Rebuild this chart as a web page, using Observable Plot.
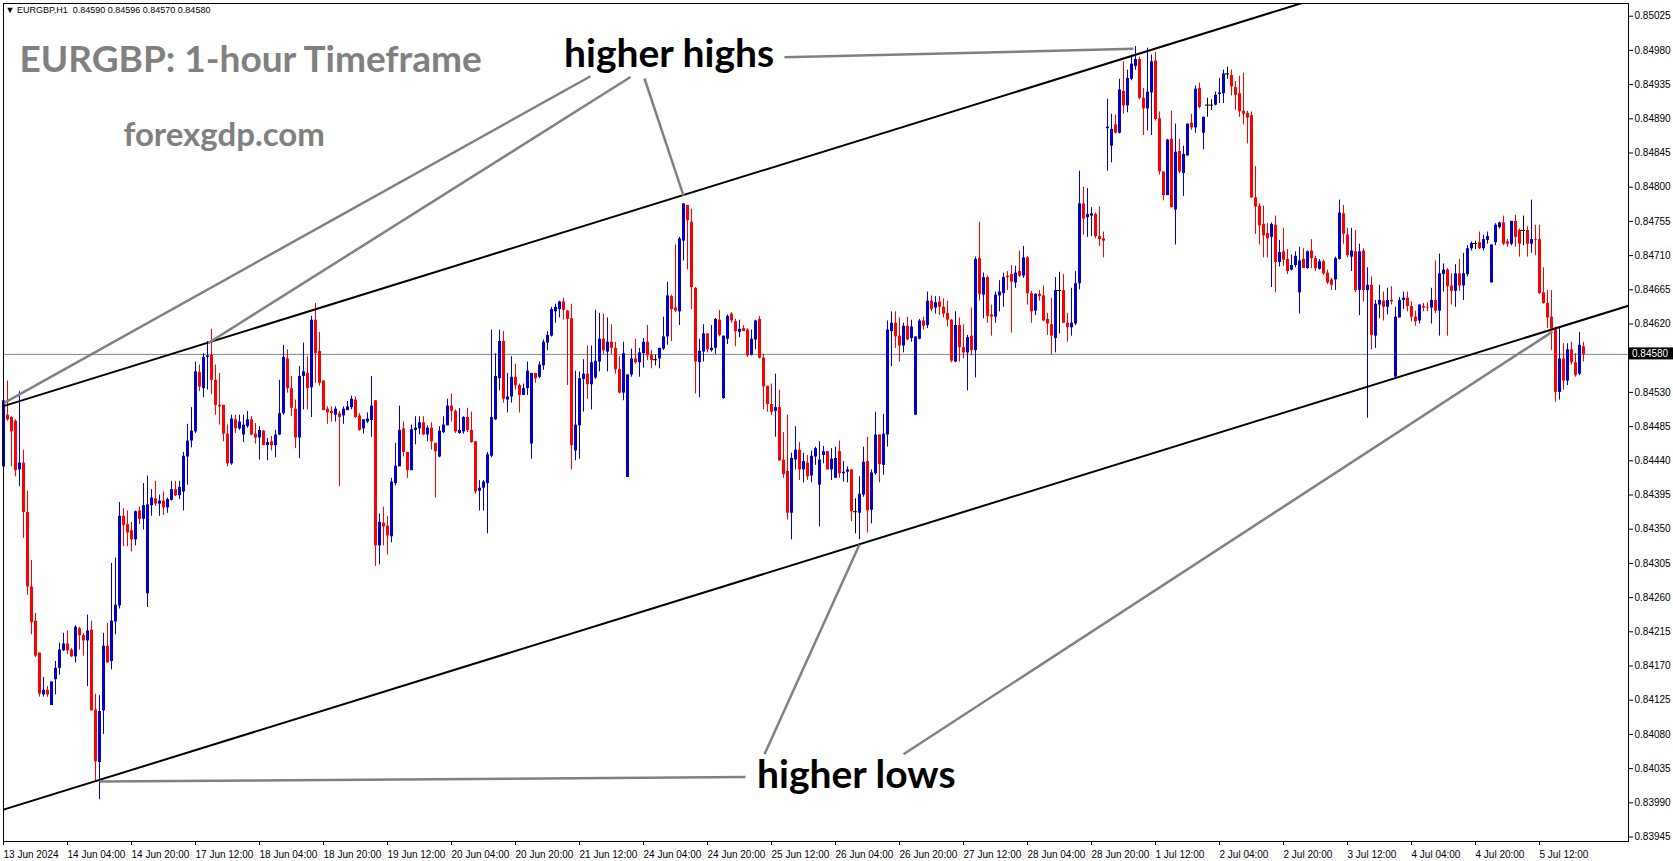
<!DOCTYPE html>
<html><head><meta charset="utf-8">
<script src="https://cdn.jsdelivr.net/npm/d3@7"></script>
<script src="https://cdn.jsdelivr.net/npm/@observablehq/plot@0.6"></script>
<style>
html,body{margin:0;padding:0;background:#fff;}
#chart{width:1673px;height:861px;overflow:hidden;}
</style></head><body><div id="chart"></div>
<script>
// Hourly EURGBP candles, prices in points (1e-5), bar 0 = 13 Jun 2024 12:00
const opens = [84432,84500,84497,84492,84428,84437,84372,84274,84229,84187,
84132,84138,84118,84152,84167,84190,84199,84191,84182,84219,
84210,84203,84217,84112,84043,84111,84196,84176,84228,84249,
84367,84356,84348,84336,84374,84363,84265,84381,84390,84383,
84387,84378,84388,84402,84394,84399,84445,84466,84478,84556,
84535,84576,84579,84546,84513,84513,84475,84436,84494,84482,
84474,84485,84494,84475,84470,84479,84460,84465,84460,84474,
84502,84574,84535,84508,84470,84551,84555,84536,84625,84584,
84545,84508,84505,84500,84502,84499,84506,84510,84520,84499,
84482,84491,84493,84519,84328,84358,84354,84340,84410,84432,
84482,84451,84427,84480,84482,84490,84474,84483,84463,84445,
84477,84486,84512,84505,84476,84478,84497,84480,84465,84400,
84404,84410,84446,84494,84548,84597,84520,84524,84550,84539,
84526,84535,84462,84555,84550,84565,84595,84604,84636,84639,
84649,84637,84627,84453,84486,84547,84554,84540,84549,84570,
84600,84583,84596,84588,84560,84529,84418,84553,84574,84569,
84581,84596,84579,84573,84574,84587,84603,84656,84641,84636,
84729,84776,84754,84667,84569,84583,84607,84585,84588,84625,
84522,84600,84633,84623,84609,84614,84612,84579,84599,84626,
84575,84538,84514,84505,84510,84441,84426,84371,84441,84454,
84428,84437,84420,84445,84408,84447,84452,84428,84417,84452,
84423,84425,84428,84373,84371,84395,84439,84375,84423,84474,
84434,84474,84610,84621,84604,84591,84617,84601,84500,84600,
84624,84618,84650,84641,84649,84642,84634,84625,84570,84618,
84589,84582,84604,84585,84706,84658,84681,84632,84629,84657,
84660,84683,84685,84674,84689,84683,84707,84660,84637,84659,
84657,84626,84619,84601,84664,84664,84621,84615,84620,84673,
84778,84760,84762,84764,84735,84732,84877,84854,84882,84871,
84926,84907,84942,84959,84968,84917,84903,84924,84966,84890,
84820,84789,84863,84770,84847,84818,84841,84884,84878,84930,
84871,84908,84908,84908,84922,84923,84949,84947,84931,84923,
84900,84897,84894,84786,84775,84751,84739,84734,84750,84701,
84715,84705,84691,84697,84661,84705,84693,84716,84706,84692,
84702,84687,84678,84678,84705,84765,84737,84708,84715,84664,
84716,84664,84671,84604,84645,84650,84642,84651,84550,84628,
84651,84654,84643,84629,84624,84643,84642,84641,84651,84637,
84685,84691,84670,84663,84686,84670,84685,84719,84726,84727,
84719,84730,84674,84727,84747,84753,84728,84725,84755,84743,
84743,84743,84725,84731,84731,84661,84647,84629,84613,84530,
84574,84545,84586,84569,84554,84590];
const highs = [84520,84545,84498,84494,84531,84454,84400,84309,84239,84187,
84155,84143,84149,84176,84200,84213,84216,84193,84223,84221,
84213,84237,84229,84133,84131,84213,84226,84305,84312,84385,
84377,84374,84359,84374,84379,84410,84420,84402,84413,84395,
84399,84391,84413,84413,84413,84451,84488,84510,84570,84566,
84581,84597,84613,84566,84555,84513,84487,84500,84500,84500,
84500,84505,84498,84489,84485,84480,84469,84472,84480,84546,
84592,84586,84551,84520,84564,84595,84577,84630,84647,84609,
84545,84511,84511,84511,84505,84511,84518,84525,84524,84502,
84494,84503,84551,84519,84370,84379,84367,84417,84463,84512,
84491,84451,84487,84498,84498,84498,84486,84490,84463,84485,
84498,84521,84528,84507,84509,84498,84509,84504,84465,84414,
84414,84451,84612,84581,84612,84610,84555,84577,84567,84541,
84541,84570,84555,84555,84570,84599,84610,84642,84646,84650,
84654,84638,84646,84558,84557,84573,84591,84591,84638,84634,
84633,84628,84619,84596,84577,84596,84553,84587,84600,84588,
84601,84618,84585,84579,84588,84629,84675,84658,84724,84734,
84778,84776,84771,84668,84600,84619,84607,84618,84627,84638,
84604,84632,84635,84626,84625,84618,84614,84612,84625,84630,
84580,84538,84541,84554,84533,84477,84500,84450,84485,84464,
84450,84447,84453,84458,84465,84459,84452,84456,84458,84466,
84439,84432,84428,84390,84419,84458,84471,84428,84504,84474,
84501,84624,84636,84636,84628,84621,84629,84625,84603,84626,
84629,84662,84657,84656,84656,84653,84650,84626,84636,84628,
84619,84605,84641,84708,84754,84687,84683,84645,84662,84677,
84687,84689,84697,84696,84716,84722,84709,84663,84660,84664,
84670,84634,84654,84681,84688,84685,84634,84667,84689,84821,
84800,84798,84773,84766,84774,84741,84916,84896,84895,84942,
84965,84954,84974,84985,84971,84930,84983,84974,84977,84899,
84820,84863,84900,84883,84863,84854,84883,84896,84933,84937,
84892,84917,84915,84925,84943,84954,84958,84954,84939,84946,
84950,84900,84899,84827,84778,84775,84752,84753,84762,84730,
84746,84718,84711,84715,84721,84719,84716,84731,84709,84705,
84704,84691,84680,84708,84783,84776,84746,84746,84743,84725,
84719,84694,84682,84651,84671,84662,84667,84669,84642,84655,
84662,84662,84649,84637,84645,84647,84648,84667,84703,84712,
84699,84693,84686,84698,84705,84713,84723,84728,84729,84741,
84737,84741,84724,84752,84754,84762,84731,84755,84763,84745,
84762,84748,84783,84750,84750,84694,84664,84664,84616,84614,
84594,84594,84596,84581,84609,84596];
const lows = [84419,84492,84432,84419,84406,84338,84263,84211,84181,84129,
84129,84129,84118,84132,84158,84189,84185,84181,84174,84191,
84183,84143,84111,84019,83994,84080,84174,84165,84211,84245,
84327,84327,84320,84328,84356,84349,84247,84367,84380,84367,
84368,84371,84387,84393,84389,84374,84408,84457,84476,84531,
84523,84533,84527,84500,84487,84465,84432,84434,84476,84480,
84464,84483,84473,84462,84441,84460,84440,84453,84444,84473,
84500,84529,84498,84456,84443,84507,84507,84497,84542,84538,
84506,84488,84491,84491,84406,84488,84506,84507,84496,84479,
84475,84489,84471,84301,84303,84328,84316,84332,84407,84432,
84445,84417,84427,84461,84474,84473,84465,84454,84391,84444,
84476,84486,84491,84476,84475,84475,84477,84463,84396,84374,
84374,84344,84444,84493,84532,84516,84503,84516,84533,84503,
84526,84526,84442,84542,84548,84559,84585,84603,84621,84628,
84625,84539,84428,84440,84442,84504,84521,84507,84547,84557,
84580,84557,84580,84554,84528,84519,84418,84550,84567,84550,
84562,84572,84561,84565,84561,84585,84592,84597,84635,84618,
84703,84691,84639,84528,84523,84570,84582,84583,84580,84603,
84521,84593,84621,84590,84602,84610,84576,84578,84586,84574,
84507,84504,84500,84471,84439,84417,84362,84336,84428,84414,
84411,84414,84411,84434,84353,84436,84428,84414,84417,84417,
84412,84411,84360,84344,84336,84392,84345,84357,84421,84411,
84421,84458,84564,84588,84570,84582,84598,84596,84500,84599,
84612,84614,84636,84633,84631,84628,84616,84569,84569,84570,
84574,84532,84578,84549,84650,84627,84621,84604,84621,84636,
84642,84664,84608,84667,84681,84680,84645,84621,84631,84650,
84623,84605,84579,84582,84607,84621,84596,84604,84618,84665,
84737,84734,84735,84732,84722,84707,84821,84832,84870,84870,
84896,84898,84940,84954,84915,84868,84874,84868,84887,84816,
84782,84789,84773,84724,84818,84788,84841,84875,84871,84903,
84849,84892,84901,84907,84910,84910,84942,84920,84901,84892,
84882,84857,84785,84738,84724,84707,84707,84668,84661,84695,
84696,84685,84690,84694,84633,84693,84692,84693,84689,84691,
84684,84672,84664,84664,84704,84725,84707,84689,84661,84631,
84649,84496,84586,84588,84627,84624,84632,84645,84548,84628,
84639,84636,84623,84617,84620,84636,84636,84620,84634,84604,
84662,84604,84645,84642,84663,84651,84682,84716,84718,84718,
84716,84725,84674,84723,84745,84723,84721,84723,84721,84708,
84723,84708,84713,84710,84659,84646,84614,84585,84517,84520,
84533,84539,84566,84550,84552,84570];
const closes = [84519,84494,84478,84427,84437,84372,84274,84227,84183,84133,
84138,84132,84149,84167,84191,84199,84190,84182,84221,84210,
84203,84216,84111,84044,84110,84196,84174,84229,84250,84367,
84355,84345,84336,84373,84363,84381,84382,84391,84383,84387,
84378,84389,84402,84394,84405,84446,84466,84479,84557,84537,
84576,84578,84546,84513,84511,84475,84436,84495,84482,84491,
84487,84494,84474,84470,84480,84460,84464,84460,84474,84502,
84576,84535,84509,84470,84551,84557,84535,84625,84581,84542,
84506,84503,84502,84508,84497,84508,84511,84521,84497,84480,
84494,84495,84512,84328,84359,84353,84341,84412,84433,84480,
84451,84427,84481,84483,84490,84474,84483,84465,84452,84479,
84487,84512,84505,84478,84480,84497,84480,84464,84399,84404,
84412,84448,84497,84551,84597,84521,84524,84550,84539,84526,
84535,84558,84555,84548,84566,84596,84605,84639,84642,84649,
84638,84626,84460,84487,84548,84554,84540,84569,84571,84600,
84585,84596,84588,84560,84529,84581,84553,84574,84569,84582,
84596,84578,84572,84573,84588,84603,84657,84639,84637,84732,
84778,84756,84668,84570,84584,84607,84586,84588,84626,84605,
84604,84630,84624,84610,84613,84610,84578,84600,84624,84575,
84537,84514,84504,84510,84440,84422,84371,84443,84454,84428,
84439,84419,84446,84456,84441,84452,84428,84442,84443,84423,
84425,84428,84373,84373,84396,84438,84374,84424,84474,84435,
84475,84612,84621,84603,84591,84617,84599,84616,84603,84624,
84617,84650,84639,84648,84642,84633,84625,84571,84618,84589,
84582,84602,84585,84705,84659,84681,84630,84629,84658,84662,
84681,84681,84675,84687,84683,84707,84660,84636,84659,84656,
84624,84620,84604,84664,84664,84621,84615,84621,84673,84778,
84758,84764,84765,84735,84731,84729,84879,84876,84871,84928,
84907,84943,84962,84968,84917,84903,84925,84965,84889,84820,
84789,84862,84773,84846,84820,84843,84883,84878,84929,84905,
84892,84908,84908,84921,84924,84949,84949,84932,84921,84899,
84896,84891,84786,84774,84749,84736,84732,84751,84701,84714,
84704,84689,84697,84709,84703,84693,84715,84706,84693,84702,
84686,84674,84671,84706,84766,84738,84710,84716,84664,84715,
84664,84671,84605,84646,84651,84642,84651,84649,84629,84651,
84654,84643,84629,84623,84645,84641,84641,84651,84637,84686,
84691,84669,84663,84686,84670,84686,84719,84726,84726,84719,
84731,84735,84724,84750,84753,84725,84725,84755,84734,84725,
84743,84725,84731,84730,84660,84647,84628,84613,84530,84574,
84545,84586,84569,84552,84592,84580];
const POINT = 1e5;

// x-axis labels (bar index -> label)
const xTickBars = [0,16,32,48,64,80,96,112,128,144,160,176,192,208,224,240,256,272,288,304,320,336,352,368,384];
const xTickLabels = ["13 Jun 2024","14 Jun 04:00","14 Jun 20:00","17 Jun 12:00","18 Jun 04:00","18 Jun 20:00","19 Jun 12:00","20 Jun 04:00","20 Jun 20:00","21 Jun 12:00","24 Jun 04:00","24 Jun 20:00","25 Jun 12:00","26 Jun 04:00","26 Jun 20:00","27 Jun 12:00","28 Jun 04:00","28 Jun 20:00","1 Jul 12:00","2 Jul 04:00","2 Jul 20:00","3 Jul 12:00","4 Jul 04:00","4 Jul 20:00","5 Jul 12:00"];
// y-axis ticks
const yTicks = [0.83945,0.83990,0.84035,0.84080,0.84125,0.84170,0.84215,0.84260,0.84305,0.84350,0.84395,0.84440,0.84485,0.84530,0.84575,0.84620,0.84665,0.84710,0.84755,0.84800,0.84845,0.84890,0.84935,0.84980,0.85025];
const currentPrice = 0.84580;
const lastQuote = "EURGBP,H1  0.84590 0.84596 0.84570 0.84580";

// channel lines (bar, price)
const upperChannel = [{bar:0, price:0.84512},{bar:330, price:0.85051}];
const lowerChannel = [{bar:0, price:0.83981},{bar:406.25, price:0.84644}];
// annotation pointer segments (bar, price)
const highPointers = [
  {b1:195.25, p1:0.84971, b2:282.5, p2:0.84982},
  {b1:146.75, p1:0.84946, b2:0.08, p2:0.84516},
  {b1:156.75, p1:0.84945, b2:51.25, p2:0.84595},
  {b1:160.25, p1:0.84943, b2:170, p2:0.84789}
];
const lowPointers = [
  {b1:185.5, p1:0.84024, b2:24, p2:0.84018},
  {b1:190.25, p1:0.84054, b2:214, p2:0.84330},
  {b1:225, p1:0.84054, b2:387.25, p2:0.84610}
];
const annotations = [
  {label:"higher highs", bar:166.4, price:0.84974},
  {label:"higher lows", bar:213.2, price:0.84026}
];

const candles = opens.map((o, i) => {
  const open = o / POINT, close = closes[i] / POINT;
  return {
    i, open, close,
    high: Math.max(highs[i] / POINT, open, close),
    low: Math.min(lows[i] / POINT, open, close),
    dir: close > open ? "up" : close < open ? "down" : "flat"
  };
});
const colorOf = d => d.dir === "up" ? "#0000cd" : d.dir === "down" ? "#ff0000" : "#000000";
const labelMap = new Map(xTickBars.map((b, k) => [b, xTickLabels[k]]));
const fmt5 = d3.format(".5f");
const AX = "'Liberation Sans', Arial, sans-serif";
const BIG = "Lato, 'Liberation Sans', sans-serif";

const chart = Plot.plot({
  width: 1673, height: 861,
  marginLeft: 3, marginRight: 45, marginTop: 3, marginBottom: 20,
  style: {fontFamily: AX, fontSize: "10px", color: "#000", background: "#fff"},
  x: {domain: [0, 406.25], axis: null},
  y: {domain: [0.839391, 0.850417], axis: null},
  marks: [
    Plot.ruleY([currentPrice], {stroke: "#7d8894", strokeWidth: 1}),
    Plot.ruleX(candles, {x: "i", y1: "low", y2: "high", stroke: colorOf, strokeWidth: 1}),
    Plot.ruleX(candles.filter(d => d.dir !== "flat"), {x: "i", y1: "open", y2: "close", stroke: colorOf, strokeWidth: 3}),
    Plot.ruleY(candles.filter(d => d.dir === "flat"), {y: "close", x1: d => d.i - 0.5, x2: d => d.i + 0.5, stroke: "#000"}),
    Plot.line(upperChannel, {x: "bar", y: "price", stroke: "#000", strokeWidth: 2, clip: true}),
    Plot.line(lowerChannel, {x: "bar", y: "price", stroke: "#000", strokeWidth: 2, clip: true}),
    Plot.link(highPointers, {x1: "b1", y1: "p1", x2: "b2", y2: "p2", stroke: "#808080", strokeWidth: 2.5}),
    Plot.link(lowPointers, {x1: "b1", y1: "p1", x2: "b2", y2: "p2", stroke: "#808080", strokeWidth: 2.5}),
    Plot.text(annotations, {x: "bar", y: "price", text: "label", fontSize: 39, fontWeight: "bold", fontFamily: BIG, fill: "#000", textAnchor: "middle", lineAnchor: "middle", letterSpacing: "2.1px"}),
    Plot.text(["EURGBP: 1-hour Timeframe"], {frameAnchor: "top-left", dx: 16, dy: 57, fontSize: 37, fontWeight: "bold", fontFamily: BIG, fill: "#808080", textAnchor: "start", lineAnchor: "middle", letterSpacing: "1.5px"}),
    Plot.text(["forexgdp.com"], {frameAnchor: "top-left", dx: 120, dy: 132, fontSize: 33, fontWeight: "bold", fontFamily: BIG, fill: "#808080", textAnchor: "start", lineAnchor: "middle", letterSpacing: "3.3px"}),
    Plot.text(["\u25BC " + lastQuote], {frameAnchor: "top-left", dx: 2, dy: 7, fontSize: 9, fill: "#000", textAnchor: "start", lineAnchor: "middle"}),
    Plot.frame({stroke: "#000"}),
    Plot.axisX(xTickBars, {anchor: "bottom", tickSize: 4, tickPadding: 5, tickFormat: d => labelMap.get(d), textAnchor: "start", dx: 0, fontSize: 10}),
    // the tick hidden under the current-price tag keeps its mark but not its label
    Plot.axisY(yTicks, {anchor: "right", tickSize: 4, tickPadding: 2, tickFormat: d => Math.abs(d - currentPrice) < 0.0001 ? "" : fmt5(d), fontSize: 10})
  ]
});
document.getElementById("chart").appendChild(chart);

// current price tag on the price axis
const yPos = chart.scale("y").apply(currentPrice);
const xRight = chart.scale("x").apply(406.25);
const svg = d3.select(chart);
svg.append("rect").attr("x", xRight + 1).attr("y", yPos - 6.5).attr("width", 44).attr("height", 12).attr("fill", "#000");
svg.append("text").attr("x", xRight + 4).attr("y", yPos).attr("dy", "0.35em")
  .attr("text-anchor", "start")
  .attr("fill", "#fff").attr("font-size", 10).attr("font-family", AX).text(fmt5(currentPrice));
</script>
</body></html>
